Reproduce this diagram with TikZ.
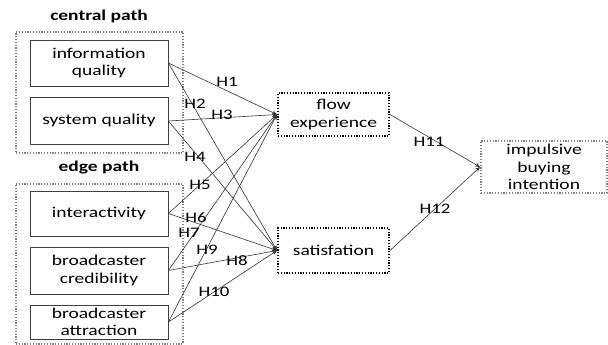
\documentclass[tikz,border=0pt]{standalone}
\usepackage{fontspec}
\setmainfont{Carlito}[FakeStretch=1.3]
\usetikzlibrary{arrows.meta}
\begin{document}
\begin{tikzpicture}[x=1pt,y=-1pt,
  every node/.style={font=\fontsize{15}{17.5}\selectfont, inner sep=0pt},
  solidbox/.style={draw=black!75, line width=0.8pt, align=center, minimum width=138pt},
  blackdot/.style={draw=black, line width=2pt, dash pattern=on 1.2pt off 1.6pt, align=center},
  graydot/.style={draw=black!50, line width=2pt, dash pattern=on 1.2pt off 1.6pt, align=center},
  grouplabel/.style={font=\fontsize{15}{17}\selectfont\bfseries},
  hlabel/.style={font=\fontsize{14.5}{16}\selectfont},
  link/.style={draw=black!80, line width=0.6pt, -{Stealth[length=5pt,width=4pt]}}
]
\useasboundingbox (0,0) rectangle (608,345);
% groups
\node[graydot, minimum width=167pt, minimum height=121pt] (cgroup) at (99.5,92.5) {};
\node[graydot, minimum width=167pt, minimum height=160pt] (egroup) at (99.5,263.5) {};
\node[grouplabel] (clabel) at (99,16) {central path};
\node[grouplabel] (elabel) at (99,168) {edge path};
% left boxes
\node[solidbox, minimum height=46pt] (info) at (99,63) {information\\quality};
\node[solidbox, minimum height=47pt] (sys) at (99,121) {system quality};
\node[solidbox, minimum height=45pt] (inter) at (99,213.5) {interactivity};
\node[solidbox, minimum height=47pt] (cred) at (99,270.5) {broadcaster\\credibility};
\node[solidbox, minimum height=34pt] (attr) at (99,322) {broadcaster\\attraction};
% middle
\node[blackdot, minimum width=111pt, minimum height=43pt] (flow) at (333.5,114.5) {flow\\experience};
\node[blackdot, minimum width=111pt, minimum height=45pt] (sat) at (333.5,250.5) {satisfation};
% right
\node[graydot, minimum width=126pt, minimum height=52pt] (imp) at (544,167) {impulsive\\buying\\intention};
% links
\draw[link] (info.east) -- (flow.west);
\draw[link] (info.east) -- (sat.west);
\draw[link] (sys.east) -- (flow.west);
\draw[link] (sys.east) -- (sat.west);
\draw[link] (inter.east) -- (flow.west);
\draw[link] (inter.east) -- (sat.west);
\draw[link] (cred.east) -- (flow.west);
\draw[link] (cred.east) -- (sat.west);
\draw[link] (attr.east) -- (flow.west);
\draw[link] (attr.east) -- (sat.west);
\draw[link] (flow.east) -- (imp.west);
\draw[link] (sat.east) -- (imp.west);
% labels
\node[hlabel] (h1) at (227,82) {H1};
\node[hlabel] (h2) at (195,104) {H2};
\node[hlabel] (h3) at (222,115) {H3};
\node[hlabel] (h4) at (195,157) {H4};
\node[hlabel] (h5) at (200,185) {H5};
\node[hlabel] (h6) at (196,218) {H6};
\node[hlabel] (h7) at (189,233) {H7};
\node[hlabel] (h8) at (237,261) {H8};
\node[hlabel] (h9) at (207,250) {H9};
\node[hlabel] (h10) at (214,292) {H10};
\node[hlabel] (h11) at (429,142) {H11};
\node[hlabel] (h12) at (435,209) {H12};
\end{tikzpicture}
\end{document}
